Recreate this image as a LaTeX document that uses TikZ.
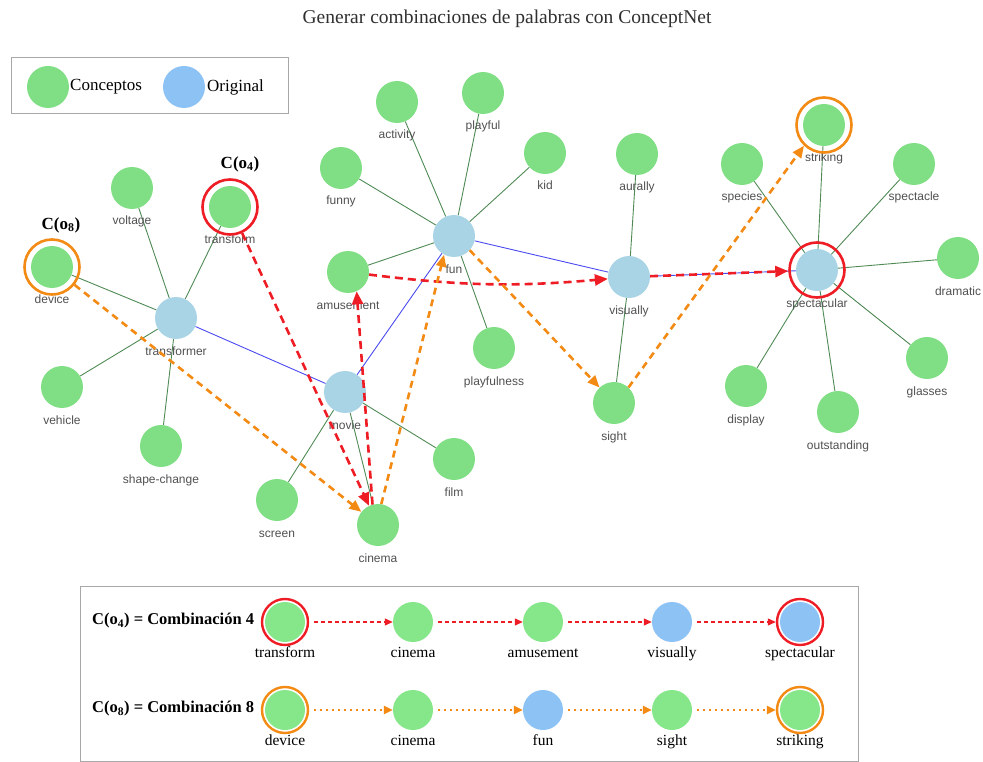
\documentclass[tikz,border=0pt]{standalone}
\usepackage{fontspec}
\setmainfont{Liberation Serif}
\setsansfont{Liberation Sans}
\usetikzlibrary{arrows.meta}
\definecolor{cgreen}{HTML}{80DF85}
\definecolor{cblue}{HTML}{A8D4E6}
\definecolor{lgreen}{HTML}{86E68A}
\definecolor{lblue}{HTML}{8DC2F4}
\definecolor{ered}{HTML}{EE1C25}
\definecolor{eorange}{HTML}{F28A14}
\definecolor{egreen}{HTML}{4F8A55}
\definecolor{eblue}{HTML}{4A4AF0}
\definecolor{lbltext}{HTML}{505050}
\definecolor{boxgray}{HTML}{A8A8A8}
\definecolor{titletext}{HTML}{303030}
\pgfdeclarelayer{bg}
\pgfsetlayers{bg,main}
% concept node with a small grey caption below it
\newcommand\cpt[4]{\node[#1] (#2) at (#3) {};
  \path (#2) ++(0,34) node[glbl] (#2l) {#4};}
% node of a combination row with a serif caption
\newcommand\cmb[4]{\node[#1] (#2) at (#3) {};
  \path (#2) ++(0,32) node[blbl] (#2l) {#4};}
\begin{document}
\begin{tikzpicture}[x=1pt,y=-1pt,
  concept/.style={circle, fill=cgreen, minimum size=42pt, inner sep=0pt},
  orig/.style={concept, fill=cblue},
  glbl/.style={font=\sffamily\fontsize{12}{12}\selectfont, text=lbltext, inner sep=0pt, text height=8.5pt, text depth=2.5pt},
  ring/.style={circle, draw=#1, line width=2.6pt, minimum size=55pt, inner sep=0pt},
  gedge/.style={draw=egreen, line width=0.9pt},
  bedge/.style={draw=eblue, line width=0.9pt},
  redarr/.style={draw=ered, line width=2.6pt, dash pattern=on 8pt off 5pt, -{Triangle[length=13pt,width=11pt]}},
  orarr/.style={draw=eorange, line width=2.6pt, dash pattern=on 7pt off 5pt, -{Triangle[length=12pt,width=10pt]}},
  cname/.style={font=\bfseries\fontsize{17}{18}\selectfont, inner sep=0pt},
  bnode/.style={circle, fill=lgreen, minimum size=40pt, inner sep=0pt},
  bnodeb/.style={bnode, fill=lblue},
  blbl/.style={font=\fontsize{15.5}{16}\selectfont, inner sep=0pt, text height=11pt, text depth=3.5pt},
  bring/.style={circle, draw=#1, line width=2.4pt, minimum size=46pt, inner sep=0pt},
  redsmall/.style={draw=ered, line width=1.1pt, dash pattern=on 4pt off 3pt, shorten <=5pt, -{Triangle[length=8pt,width=7pt]}},
  orsmall/.style={draw=eorange, line width=2.2pt, dash pattern=on 2pt off 4pt, shorten <=5pt, -{Triangle[length=9pt,width=8pt]}},
  rowlbl/.style={font=\bfseries\fontsize{16.5}{17}\selectfont, inner sep=0pt, anchor=west},
  legtext/.style={anchor=west, font=\fontsize{17}{18}\selectfont, inner sep=0pt}
]
\useasboundingbox (0,0) rectangle (983,762);

% title
\node[font=\fontsize{19.5}{20}\selectfont, text=titletext] (title) at (507,19) {Generar combinaciones de palabras con ConceptNet};

% legend
\node[draw=boxgray, line width=0.8pt, minimum width=277pt, minimum height=56pt, anchor=north west, inner sep=0pt] (legend) at (11,57) {};
\node[circle, fill=cgreen, minimum size=42pt, inner sep=0pt] (legc) at (48,87) {};
\node[legtext] (legct) at (70,87) {Conceptos};
\node[circle, fill=lblue, minimum size=42pt, inner sep=0pt] (lego) at (184,87) {};
\node[legtext] (legot) at (207,87) {Original};

% concept graph
\cpt{orig}{transformer}{176,318}{transformer}
\cpt{concept}{device}{52,267}{device}
\cpt{concept}{voltage}{132,188}{voltage}
\cpt{concept}{transform}{230,207}{transform}
\cpt{concept}{vehicle}{62,387}{vehicle}
\cpt{concept}{shapechange}{161,446}{shape-change}

\cpt{orig}{movie}{345,392}{movie}
\cpt{concept}{screen}{277,500}{screen}
\cpt{concept}{cinema}{378,525}{cinema}
\cpt{concept}{film}{454,459}{film}

\cpt{orig}{fun}{454,236}{fun}
\cpt{concept}{activity}{397,102}{activity}
\cpt{concept}{playful}{483,93}{playful}
\cpt{concept}{kid}{545,153}{kid}
\cpt{concept}{funny}{341,168}{funny}
\cpt{concept}{amusement}{348,272}{amusement}
\cpt{concept}{playfulness}{494,348}{playfulness}

\cpt{orig}{visually}{629,277}{visually}
\cpt{concept}{aurally}{637,154}{aurally}
\cpt{concept}{sight}{614,403}{sight}

\cpt{orig}{spectacular}{817,270}{spectacular}
\cpt{concept}{striking}{824,125}{striking}
\cpt{concept}{species}{742,164}{species}
\cpt{concept}{spectacle}{914,164}{spectacle}
\cpt{concept}{dramatic}{958,258}{dramatic}
\cpt{concept}{glasses}{927,358}{glasses}
\cpt{concept}{outstanding}{838,412}{outstanding}
\cpt{concept}{display}{746,386}{display}

% highlighted start and end words
\node[ring=eorange] (deviceR) at (device) {};
\node[ring=ered] (transformR) at (transform) {};
\node[ring=ered] (spectacularR) at (spectacular) {};
\node[ring=eorange] (strikingR) at (striking) {};
\node[cname] (co8) at (61,225) {C(o\textsubscript{8})};
\node[cname] (co4) at (240,164) {C(o\textsubscript{4})};

\begin{pgfonlayer}{bg}
  \foreach \t in {device,voltage,transform,vehicle,shapechange}
    \draw[gedge] (transformer) -- (\t);
  \foreach \t in {screen,cinema,film}
    \draw[gedge] (movie) -- (\t);
  \foreach \t in {activity,playful,kid,funny,amusement,playfulness}
    \draw[gedge] (fun) -- (\t);
  \foreach \t in {aurally,sight}
    \draw[gedge] (visually) -- (\t);
  \foreach \t in {striking,species,spectacle,dramatic,glasses,outstanding,display}
    \draw[gedge] (spectacular) -- (\t);
  \draw[bedge] (transformer) -- (movie);
  \draw[bedge] (movie) -- (fun);
  \draw[bedge] (fun) -- (visually);
  \draw[bedge] (visually) -- (spectacular);
\end{pgfonlayer}

% combination 4 path
\draw[redarr] (transformR) -- (cinema);
\draw[redarr] (cinema.105) -- (amusement.-66);
\draw[redarr] (amusement) to[bend right=6] (visually);
\draw[redarr] (visually) -- (spectacularR);

% combination 8 path
\draw[orarr] (deviceR) -- (cinema);
\draw[orarr] (cinema.81) -- (fun.-118);
\draw[orarr] (fun.-42) -- (sight.133);
\draw[orarr] (sight.47) -- (strikingR.-134);

% summary box
\node[draw=boxgray, line width=0.8pt, minimum width=778pt, minimum height=175pt, anchor=north west, inner sep=0pt] (summary) at (80,586) {};
\node[rowlbl] (row4) at (92,621) {C(o\textsubscript{4}) = Combinación 4};
\node[rowlbl] (row8) at (92,709) {C(o\textsubscript{8}) = Combinación 8};

\cmb{bnode}{a1}{285,622}{transform}
\cmb{bnode}{a2}{413,622}{cinema}
\cmb{bnode}{a3}{543,622}{amusement}
\cmb{bnodeb}{a4}{672,622}{visually}
\cmb{bnodeb}{a5}{800,622}{spectacular}
\node[bring=ered] (a1R) at (a1) {};
\node[bring=ered] (a5R) at (a5) {};

\cmb{bnode}{b1}{285,710}{device}
\cmb{bnode}{b2}{413,710}{cinema}
\cmb{bnodeb}{b3}{543,710}{fun}
\cmb{bnode}{b4}{672,710}{sight}
\cmb{bnode}{b5}{800,710}{striking}
\node[bring=eorange] (b1R) at (b1) {};
\node[bring=eorange] (b5R) at (b5) {};

\draw[redsmall] (a1R) -- (a2);
\draw[redsmall] (a2) -- (a3);
\draw[redsmall] (a3) -- (a4);
\draw[redsmall] (a4) -- (a5R);

\draw[orsmall] (b1R) -- (b2);
\draw[orsmall] (b2) -- (b3);
\draw[orsmall] (b3) -- (b4);
\draw[orsmall] (b4) -- (b5R);
\end{tikzpicture}
\end{document}
